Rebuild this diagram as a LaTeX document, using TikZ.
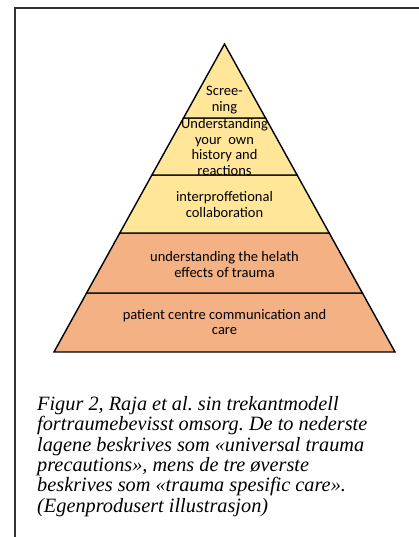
\documentclass[tikz,border=0pt]{standalone}
\usepackage{fontspec}
\setmainfont{Liberation Serif}
\newfontfamily\calibri{Carlito}
\usetikzlibrary{positioning}
\definecolor{pyryellow}{HTML}{FFE699}
\definecolor{pyrorange}{HTML}{F4B183}
\frenchspacing

\begin{document}
\begin{tikzpicture}[x=1pt,y=-1pt,
 tier/.style={draw,line width=1.4pt,line join=miter},
 lab/.style={font=\calibri\fontsize{14.5}{15.8}\selectfont,align=center,inner sep=0pt},
 captext/.style={font=\fontsize{20.3}{20.4}\selectfont\itshape,align=left,inner sep=0pt}]
\useasboundingbox (0,0) rectangle (419,537);
% frame
\draw[line width=1.6pt,black!80] (15,537) -- (15,8) -- (419,8);
% pyramid, bottom up
\draw[tier,fill=pyrorange] (54,352) -- (395,352) -- (362.4,293) -- (86.6,293) -- cycle;
\draw[tier,fill=pyrorange] (86.6,293) -- (362.4,293) -- (329.2,233) -- (119.8,233) -- cycle;
\draw[tier,fill=pyryellow] (119.8,233) -- (329.2,233) -- (297.1,175) -- (151.9,175) -- cycle;
\draw[tier,fill=pyryellow] (151.9,175) -- (297.1,175) -- (265.5,118) -- (183.5,118) -- cycle;
\draw[tier,fill=pyryellow] (183.5,118) -- (265.5,118) -- (224.5,44) -- cycle;
% labels
\node[lab] (scr) at (224.5,100) {Scree-\\ning};
\node[lab] (own) at (224.5,147) {Understanding\\your~ own\\history and\\reactions};
\node[lab] (ipc) at (224.5,204.5) {interproffetional\\collaboration};
\node[lab] (hea) at (224.5,264.5) {understanding the helath\\effects of trauma};
\node[lab] (pcc) at (224.5,322) {patient centre communication and\\care};
% caption
\node[captext,anchor=north west] (fig) at (37,396) {Figur 2, Raja et al. sin trekantmodell\\fortraumebevisst omsorg. De to nederste\\lagene beskrives som «universal trauma\\precautions», mens de tre øverste\\beskrives som «trauma spesific care».\\(Egenprodusert illustrasjon)};
\end{tikzpicture}
\end{document}
